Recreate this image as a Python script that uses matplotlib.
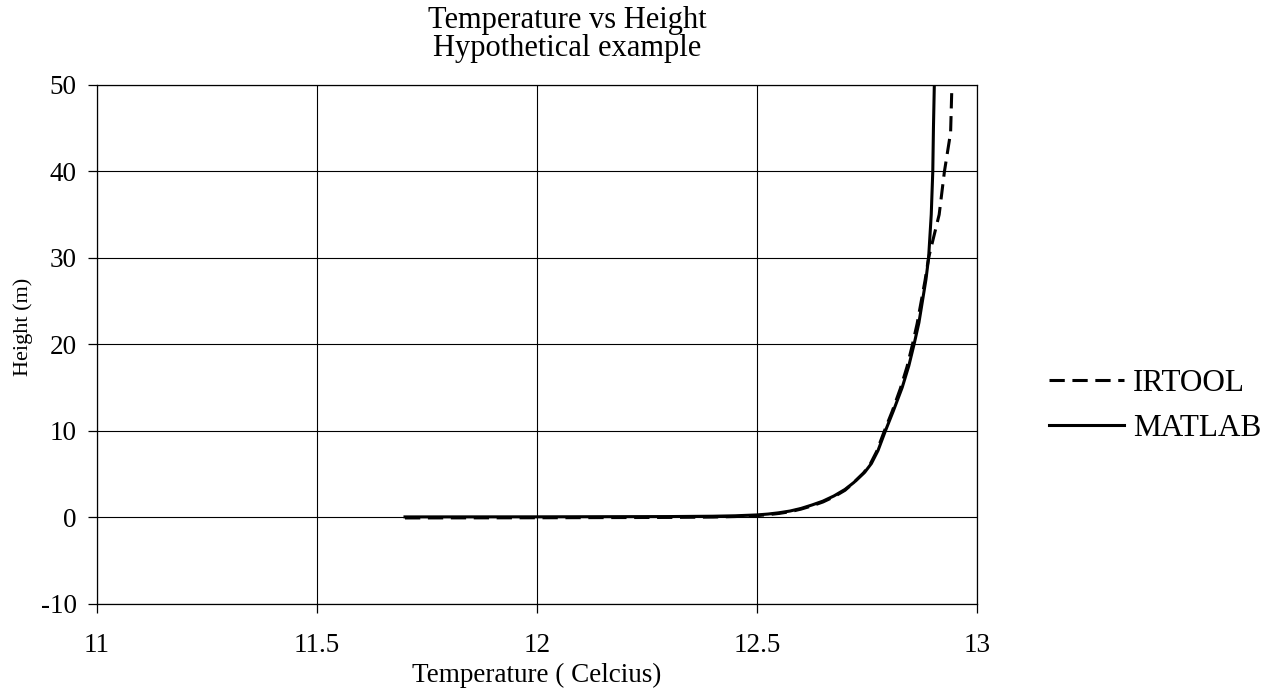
import matplotlib
matplotlib.use("Agg")
import matplotlib.pyplot as plt

plt.rcParams['font.family'] = ['Liberation Serif', 'DejaVu Serif']

# Data (temperature in Celsius, height in m)
matlab_temp = [11.70, 12.00, 12.30, 12.40, 12.45, 12.50, 12.525, 12.55, 12.575, 12.60,
               12.625, 12.65, 12.675, 12.70, 12.72, 12.745, 12.76, 12.775, 12.792,
               12.81, 12.83, 12.845, 12.857, 12.868, 12.876, 12.884, 12.89,
               12.896, 12.8995, 12.901, 12.903]
matlab_height = [0.02, 0.03, 0.06, 0.1, 0.15, 0.25, 0.35, 0.5, 0.7, 1.0,
                 1.4, 1.85, 2.45, 3.2, 4.0, 5.2, 6.2, 7.7, 10.0,
                 12.3, 15.0, 17.5, 20.0, 22.5, 25.0, 27.5, 30.0,
                 35.0, 40.0, 45.0, 50.0]

irtool_temp = [11.70, 12.00, 12.30, 12.40, 12.45, 12.50, 12.525, 12.55, 12.575, 12.60,
               12.625, 12.65, 12.675, 12.70, 12.718, 12.742, 12.757, 12.772, 12.789,
               12.807, 12.826, 12.841, 12.853, 12.864, 12.873, 12.882, 12.89,
               12.914, 12.926, 12.94, 12.943]
irtool_height = [-0.1, -0.08, -0.04, 0.0, 0.06, 0.17, 0.28, 0.42, 0.62, 0.92,
                 1.3, 1.75, 2.35, 3.1, 3.9, 5.1, 6.1, 7.6, 9.9,
                 12.2, 14.9, 17.4, 19.9, 22.4, 24.9, 27.4, 30.0,
                 35.0, 40.0, 44.5, 50.0]

x_ticks = [11, 11.5, 12, 12.5, 13]
x_tick_labels = ['11', '11.5', '12', '12.5', '13']
y_ticks = [-10, 0, 10, 20, 30, 40, 50]
y_tick_labels = ['-10', '0', '10', '20', '30', '40', '50']

fig = plt.figure(figsize=(12.85, 7.0), dpi=100)
ax = fig.add_axes([97/1285, 1 - 603.5/700, (977 - 97)/1285, (603.5 - 85)/700])

ax.plot(irtool_temp, irtool_height, color='black', lw=2.2, ls=(0, (5, 2.5)), label='IRTOOL')
ax.plot(matlab_temp, matlab_height, color='black', lw=2.2, ls='-', label='MATLAB')

ax.set_xlim(11, 13)
ax.set_ylim(-10, 50)
ax.set_xticks(x_ticks)
ax.set_xticklabels(x_tick_labels)
ax.set_yticks(y_ticks)
ax.set_yticklabels(y_tick_labels)
ax.grid(True, color='black', lw=0.8)
ax.set_axisbelow(True)
for s in ax.spines.values():
    s.set_color('black')
    s.set_linewidth(0.9)

ax.tick_params(axis='x', direction='out', length=6.5, width=0.9, pad=15, labelsize=19.5)
ax.tick_params(axis='y', direction='out', length=6.5, width=0.9, pad=8, labelsize=19.5)

ax.set_xlabel('Temperature ( Celcius)', fontsize=19.5, labelpad=3)
ax.set_ylabel('Height (m)', fontsize=16, ha='center', va='center')
ax.yaxis.set_label_coords((23 - 97)/880, 1 - (327 - 85)/518.5)
ax.set_title('Temperature vs Height\nHypothetical example', fontsize=22, pad=21,
             linespacing=0.95, x=(567 - 97)/880)

fig.legend(loc='center left', bbox_to_anchor=(1049/1285, 1 - 406/700),
           frameon=False, fontsize=22.5, handlelength=2.4, handletextpad=0.3,
           labelspacing=0.5, borderpad=0, borderaxespad=0)

fig.savefig('out.png', dpi=100)
